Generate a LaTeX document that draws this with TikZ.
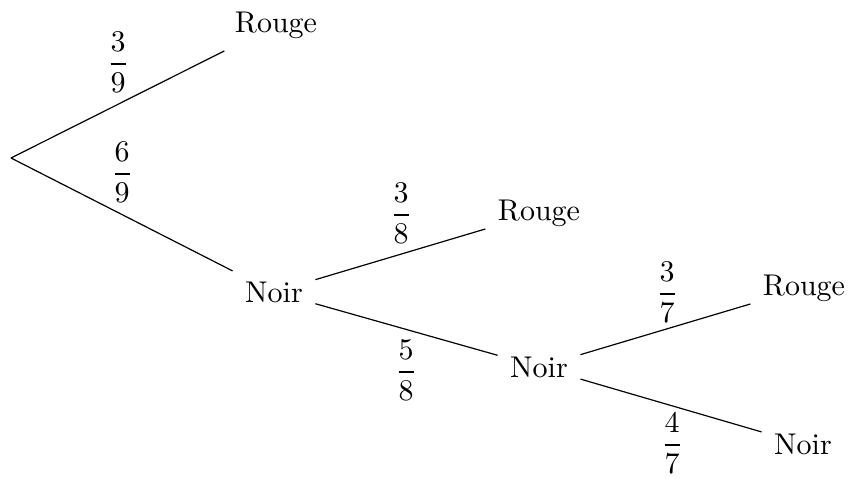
\documentclass[tikz,border=0pt]{standalone}
\usepackage{amsmath}
\begin{document}
\begin{tikzpicture}[x=0.3333pt,y=-0.3333pt,
  leaf/.style={inner sep=4pt},
  prob/.style={inner sep=0pt},
  branch/.style={line width=0.4pt}]
\useasboundingbox (0,0) rectangle (849,478);
\coordinate (root) at (11,158);
\node[leaf] (r1) at (276,25) {Rouge};
\node[leaf] (n1) at (274,292) {Noir};
\node[leaf] (r2) at (539,213) {Rouge};
\node[leaf] (n2) at (539,367) {Noir};
\node[leaf] (r3) at (804,288) {Rouge};
\node[leaf] (n3) at (803,444) {Noir};
\draw[branch] (root) -- (r1);
\draw[branch] (root) -- (n1);
\draw[branch] (n1) -- (r2);
\draw[branch] (n1) -- (n2);
\draw[branch] (n2) -- (r3);
\draw[branch] (n2) -- (n3);
\node[prob] (p1) at (118,62) {$\dfrac{3}{9}$};
\node[prob] (p2) at (122,172) {$\dfrac{6}{9}$};
\node[prob] (p3) at (401,213) {$\dfrac{3}{8}$};
\node[prob] (p4) at (406,370) {$\dfrac{5}{8}$};
\node[prob] (p5) at (667,292) {$\dfrac{3}{7}$};
\node[prob] (p6) at (672,443) {$\dfrac{4}{7}$};
\end{tikzpicture}
\end{document}
